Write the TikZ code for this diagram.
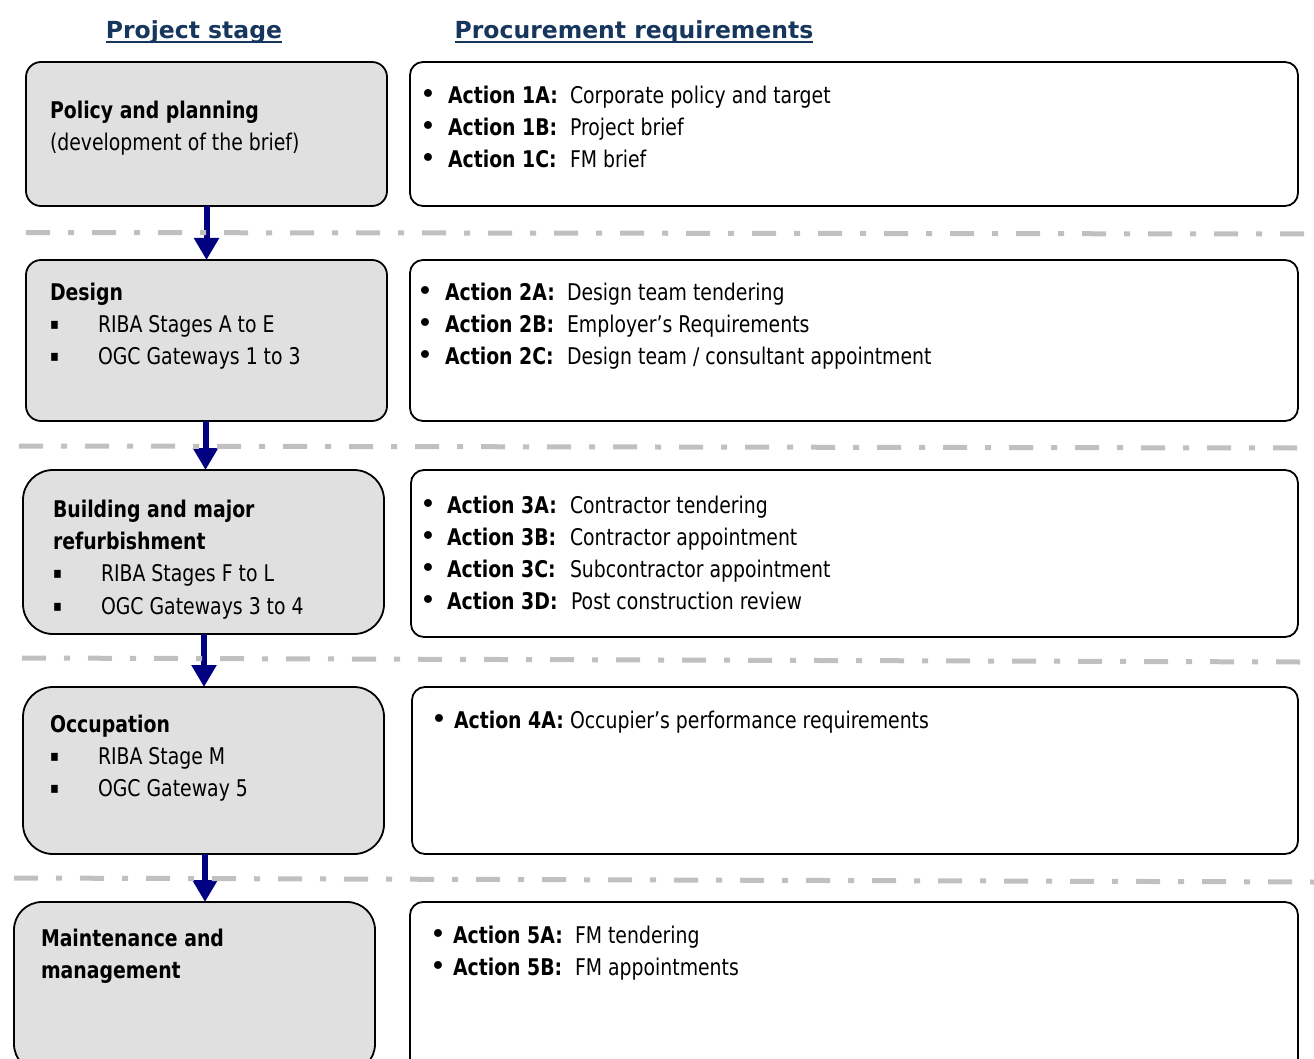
\documentclass[tikz,border=0pt]{standalone}
\usepackage{fontspec}
\setmainfont{DejaVu Sans}[FakeStretch=0.82]
\newfontfamily\headfont{DejaVu Sans}
\usetikzlibrary{arrows.meta,positioning}
\definecolor{headnavy}{RGB}{23,54,93}
\definecolor{flownavy}{RGB}{0,0,128}
\definecolor{stagegray}{RGB}{224,224,224}
\definecolor{rulegray}{RGB}{192,192,192}
% one requirement line: bullet box, label box, label
\newcommand{\reqitem}[3]{\makebox[#1][l]{\headfont\fontsize{27}{32}\selectfont •}\makebox[#2][l]{\bfseries #3}}
\newcommand{\stageitem}{\makebox[48pt][l]{\raisebox{2.7pt}{\fontsize{16}{16}\selectfont ▪}}}

\begin{document}
\begin{tikzpicture}[
    x=1pt, y=-1pt,
    every node/.style={inner sep=0pt, outer sep=0pt},
    stagebox/.style={draw, line width=1.8pt, fill=stagegray, rounded corners=#1,
        minimum width=361pt, anchor=north west},
    reqbox/.style={draw, line width=1.8pt, fill=white, rounded corners=13pt,
        minimum width=888pt, anchor=north west},
    txt/.style={anchor=base west, font=\fontsize{23}{32}\selectfont},
    head/.style={anchor=base, text=headnavy, font=\headfont\fontsize{23.5}{30}\selectfont\bfseries},
    flow/.style={draw=flownavy, line width=6pt, -{Triangle[width=24pt,length=22pt]}},
    sep/.style={draw=rulegray, line width=5pt, dash pattern=on 24pt off 18pt on 6pt off 18pt}
]
\useasboundingbox (0,0) rectangle (1314,1059);
\clip (0,0) rectangle (1314,1059);

% column headings
\node[head] (stagehead) at (194,39) {Project stage};
\node[head] (reqhead) at (634,39) {Procurement requirements};
\draw[headnavy, line width=2pt] ([yshift=-3.5pt]stagehead.base west) -- ([yshift=-3.5pt]stagehead.base east);
\draw[headnavy, line width=2pt] ([yshift=-3.5pt]reqhead.base west) -- ([yshift=-3.5pt]reqhead.base east);

% project stages
\node[stagebox=15pt, minimum height=144pt] (plan) at (26,62) {};
\node[stagebox=15pt, minimum height=161pt] (design) at (26,260) {};
\node[stagebox=30pt, minimum height=164pt] (build) at (23,470) {};
\node[stagebox=30pt, minimum height=167pt] (occup) at (23,687) {};
\node[stagebox=28pt, minimum height=170pt] (maint) at (14,902) {};

% procurement boxes
\node[reqbox, minimum height=144pt] (req1) at (410,62) {};
\node[reqbox, minimum height=161pt] (req2) at (410,260) {};
\node[reqbox, minimum width=887pt, minimum height=167pt] (req3) at (411,470) {};
\node[reqbox, minimum width=886pt, minimum height=167pt] (req4) at (412,687) {};
\node[reqbox, minimum height=170pt] (req5) at (410,902) {};

% stage texts
\node[txt] (plant) at (50,119) {\bfseries Policy and planning};
\node[txt] (plann) at (50,151) {(development of the brief)};

\node[txt] (designt) at (50,300) {\bfseries Design};
\node[txt] (design1) at (50,332) {\stageitem RIBA Stages A to E};
\node[txt] (design2) at (50,364) {\stageitem OGC Gateways 1 to 3};

\node[txt] (buildt) at (53,517) {\bfseries Building and major};
\node[txt] (buildu) at (53,549) {\bfseries refurbishment};
\node[txt] (build1) at (53,581) {\stageitem RIBA Stages F to L};
\node[txt] (build2) at (53,614) {\stageitem OGC Gateways 3 to 4};

\node[txt] (occupt) at (50,732) {\bfseries Occupation};
\node[txt] (occup1) at (50,764) {\stageitem RIBA Stage M};
\node[txt] (occup2) at (50,796) {\stageitem OGC Gateway 5};

\node[txt] (maintt) at (41,946) {\bfseries Maintenance and};
\node[txt] (maintu) at (41,978) {\bfseries management};

% requirement texts
\node[txt] (r1a) at (420,104) {\reqitem{28pt}{122pt}{Action 1A:}Corporate policy and target};
\node[txt] (r1b) at (420,136) {\reqitem{28pt}{122pt}{Action 1B:}Project brief};
\node[txt] (r1c) at (420,168) {\reqitem{28pt}{122pt}{Action 1C:}FM brief};

\node[txt] (r2a) at (417,300) {\reqitem{28pt}{122pt}{Action 2A:}Design team tendering};
\node[txt] (r2b) at (417,332) {\reqitem{28pt}{122pt}{Action 2B:}Employer’s Requirements};
\node[txt] (r2c) at (417,364) {\reqitem{28pt}{122pt}{Action 2C:}Design team / consultant appointment};

\node[txt] (r3a) at (420,513) {\reqitem{27pt}{123pt}{Action 3A:}Contractor tendering};
\node[txt] (r3b) at (420,545) {\reqitem{27pt}{123pt}{Action 3B:}Contractor appointment};
\node[txt] (r3c) at (420,577) {\reqitem{27pt}{123pt}{Action 3C:}Subcontractor appointment};
\node[txt] (r3d) at (420,609) {\reqitem{27pt}{124pt}{Action 3D:}Post construction review};

\node[txt] (r4a) at (431,728) {\reqitem{23pt}{116pt}{Action 4A:}Occupier’s performance requirements};

\node[txt] (r5a) at (430,943) {\reqitem{23pt}{122pt}{Action 5A:}FM tendering};
\node[txt] (r5b) at (430,975) {\reqitem{23pt}{122pt}{Action 5B:}FM appointments};

% stage flow
\draw[flow] (plan.south) -- (plan.south |- design.north);
\draw[flow] ([xshift=-1pt]design.south) -- ([xshift=-1pt]design.south |- build.north);
\draw[flow] ([xshift=0.5pt]build.south) -- ([xshift=0.5pt]build.south |- occup.north);
\draw[flow] ([xshift=1.5pt]occup.south) -- ([xshift=1.5pt]occup.south |- maint.north);

% stage separators
\draw[sep] (26,232.5) -- (1305,234);
\draw[sep] (19,446) -- (1297,448);
\draw[sep] (22,658) -- (1300,662);
\draw[sep] (14,878) -- (1314,882);
\end{tikzpicture}
\end{document}
